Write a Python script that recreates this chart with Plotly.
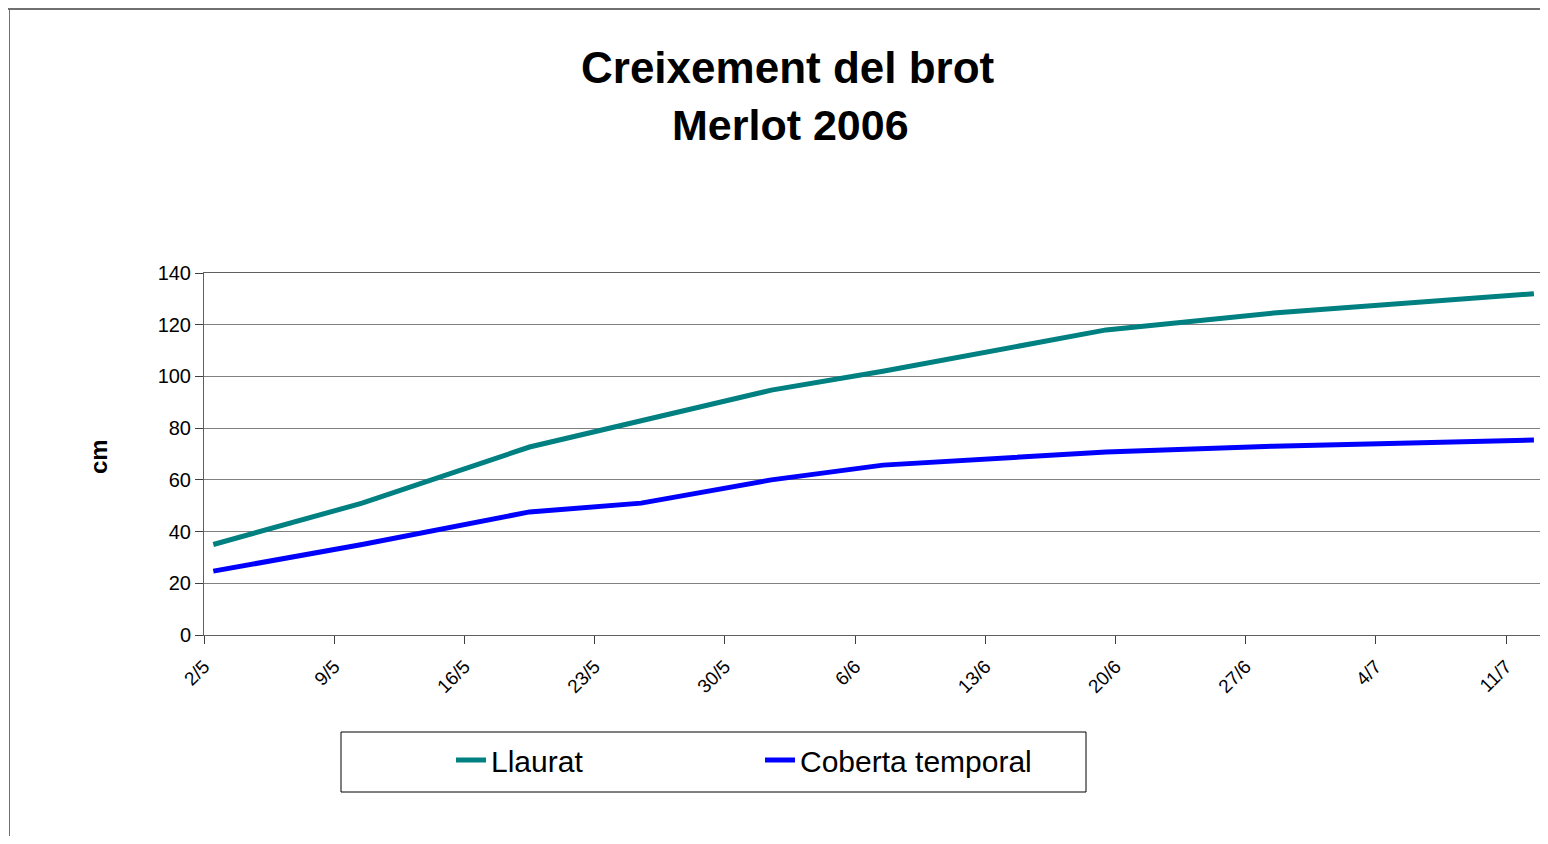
import plotly.graph_objects as go

# ---- data ----
dates = ["2006-05-02 12:00", "2006-05-10 12:00", "2006-05-19 12:00", "2006-05-25 12:00",
         "2006-06-01 12:00", "2006-06-07 12:00", "2006-06-19 12:00", "2006-06-28 12:00",
         "2006-07-12 12:00"]
llaurat = [35, 51, 72.7, 83, 94.7, 102, 118, 124.5, 132]
coberta = [24.7, 35, 47.6, 51, 60, 65.7, 70.8, 73, 75.4]

tick_dates = ["2006-05-02", "2006-05-09", "2006-05-16", "2006-05-23", "2006-05-30",
              "2006-06-06", "2006-06-13", "2006-06-20", "2006-06-27", "2006-07-04",
              "2006-07-11"]
tick_labels = ["2/5", "9/5", "16/5", "23/5", "30/5", "6/6", "13/6", "20/6", "27/6", "4/7", "11/7"]

y_ticks = [0, 20, 40, 60, 80, 100, 120, 140]

# page body has an 8px margin: figure is placed at screen (8, 8)
OFF = 8
W, H = 1540, 828
# plot area in screen pixels: x 204..1544, y 273..635
SX0, SX1, SY0, SY1 = 204, 1544, 273, 635
L = SX0 - OFF
T = SY0 - OFF
R = W - (SX1 - OFF)
B = H - (SY1 - OFF)
PW, PH = SX1 - SX0, SY1 - SY0


def px(x):
    return (x - SX0) / PW


def py(y):
    return (SY1 - y) / PH


FONT = "Liberation Sans, Arial, sans-serif"

fig = go.Figure()
fig.add_trace(go.Scatter(x=dates, y=llaurat, mode="lines", name="Llaurat",
                         line=dict(color="#008080", width=5)))
fig.add_trace(go.Scatter(x=dates, y=coberta, mode="lines", name="Coberta temporal",
                         line=dict(color="#0000FF", width=5)))

fig.update_layout(
    width=W, height=H,
    margin=dict(l=L, r=R, t=T, b=B, autoexpand=False),
    paper_bgcolor="white", plot_bgcolor="white",
    font=dict(family=FONT, color="black"),
    showlegend=True,
    legend=dict(orientation="h", x=px(451), xanchor="left", y=py(760), yanchor="middle",
                font=dict(size=30, family=FONT, color="black"),
                bgcolor="rgba(0,0,0,0)", borderwidth=0,
                entrywidthmode="pixels", entrywidth=264),
    xaxis=dict(type="date", range=["2006-05-02", "2006-07-13 01:00"],
               tickmode="array", tickvals=tick_dates, ticktext=tick_labels,
               tickangle=-45, tickfont=dict(size=19, family=FONT, color="black"),
               ticks="outside", ticklen=8, tickcolor="#404040", ticklabelstandoff=4,
               showline=True, linecolor="#606060", linewidth=1, mirror=True,
               showgrid=False, zeroline=False),
    yaxis=dict(range=[0, 140], tickmode="array", tickvals=y_ticks,
               tickfont=dict(size=20, family=FONT, color="black"),
               ticks="outside", ticklen=8, tickcolor="#404040",
               showline=True, linecolor="#606060", linewidth=1, mirror=True,
               showgrid=True, gridcolor="#808080", gridwidth=1, zeroline=False),
    annotations=[
        dict(text="<b>Creixement del brot</b>", x=px(788), y=py(67), xref="paper", yref="paper",
             showarrow=False, font=dict(size=44, family=FONT, color="black"),
             xanchor="center", yanchor="middle"),
        dict(text="<b>Merlot 2006</b>", x=px(790), y=py(125), xref="paper", yref="paper",
             showarrow=False, font=dict(size=43, family=FONT, color="black"),
             xanchor="center", yanchor="middle"),
        dict(text="<b>cm</b>", x=px(98), y=py(457), xref="paper", yref="paper",
             showarrow=False, textangle=-90, font=dict(size=24, family=FONT, color="black"),
             xanchor="center", yanchor="middle"),
    ],
    shapes=[
        # legend box
        dict(type="rect", xref="paper", yref="paper", x0=px(341), x1=px(1086),
             y0=py(792), y1=py(732), line=dict(color="black", width=1),
             fillcolor="rgba(0,0,0,0)"),
        # outer chart border (top and left)
        dict(type="line", xref="paper", yref="paper", x0=px(8), x1=px(1548),
             y0=py(9), y1=py(9), line=dict(color="#707070", width=2)),
        dict(type="line", xref="paper", yref="paper", x0=px(9.5), x1=px(9.5),
             y0=py(9), y1=py(844), line=dict(color="#707070", width=1)),
    ],
)

fig.write_html("out.html")
